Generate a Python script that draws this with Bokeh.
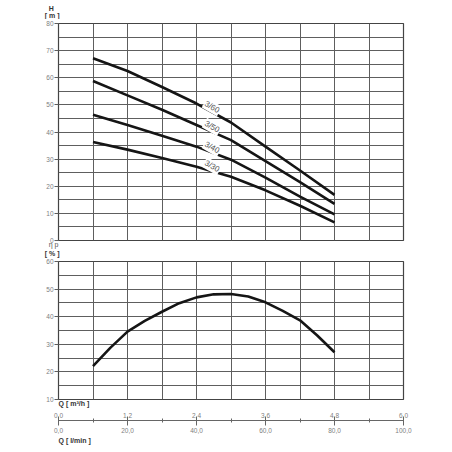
import numpy as np
from bokeh.plotting import figure
from bokeh.layouts import column
from bokeh.models import FixedTicker, LinearAxis, Label, Range1d, Title
from bokeh.embed import file_html
from bokeh.resources import INLINE

# ---- data ----
flow_lmin = [10, 20, 30, 40, 50, 60, 70, 80]
head_3_60 = [67.2, 62.5, 56.6, 50.5, 43.5, 34.6, 25.8, 16.8]
head_3_50 = [58.8, 53.5, 48.2, 42.6, 37.0, 29.3, 21.5, 13.5]
head_3_40 = [46.4, 42.6, 38.6, 34.6, 29.8, 23.2, 16.2, 9.6]
head_3_30 = [36.3, 33.5, 30.4, 27.2, 23.5, 18.5, 12.8, 6.7]
series_names = ["3/60", "3/50", "3/40", "3/30"]

eff_flow = [10, 15, 20, 25, 30, 35, 40, 45, 50, 55, 60, 65, 70, 75, 80]
eff_pct = [22.1, 28.7, 34.6, 38.5, 41.8, 44.9, 47.0, 48.1, 48.2, 47.3, 45.2, 42.1, 38.7, 33.2, 27.1]

x_major = [0, 20, 40, 60, 80, 100]
x_minor = [10, 30, 50, 70, 90]
m3h_labels = ["0,0", "1,2", "2,4", "3,6", "4,8", "6,0"]
lmin_labels = ["0,0", "20,0", "40,0", "60,0", "80,0", "100,0"]
h_ticks = list(range(0, 81, 10))
eff_ticks = list(range(10, 61, 10))

FONT = "Liberation Sans"
GRID = "#5e5e5e"
TICKC = "#808080"
CURVE = "#151515"
TSIZE = "6.5px"


def style(p, yt, ygrid_ticks):
    p.outline_line_color = "#444444"
    p.outline_line_width = 1.2
    p.outline_line_alpha = 1
    p.xgrid.ticker = FixedTicker(ticks=list(range(0, 101, 10)))
    p.ygrid.ticker = FixedTicker(ticks=ygrid_ticks)
    for g in (p.xgrid, p.ygrid):
        g.grid_line_color = GRID
        g.grid_line_width = 1
        g.grid_line_alpha = 1
    ax = p.yaxis[0]
    ax.ticker = FixedTicker(ticks=yt)
    ax.axis_line_color = None
    ax.major_tick_in = 0
    ax.major_tick_out = 4
    ax.minor_tick_out = 0
    ax.minor_tick_in = 0
    ax.major_tick_line_color = GRID
    ax.major_label_standoff = 1
    ax.major_label_text_font = FONT
    ax.major_label_text_font_size = TSIZE
    ax.major_label_text_color = TICKC
    p.background_fill_color = "white"
    p.border_fill_color = "white"


def ttl(p, text, side, valign, standoff, offset, bold=True, color="#333333"):
    p.add_layout(Title(text=text, align="left", offset=offset, standoff=standoff,
                       vertical_align=valign, text_font=FONT, text_font_size="7px",
                       text_line_height=1.0,
                       text_font_style="bold" if bold else "normal",
                       text_color=color), side)


# ---- header strip carrying the H [ m ] axis title ----
head = figure(frame_width=345, frame_height=1, x_range=Range1d(0, 100), y_range=Range1d(0, 1),
              x_axis_location=None, y_axis_location=None,
              min_border_left=58, min_border_right=34, min_border_top=18, min_border_bottom=0,
              output_backend="svg", toolbar_location=None)
head.outline_line_color = None
head.grid.visible = False
head.background_fill_color = "white"
head.border_fill_color = "white"
ttl(head, "\u00a0\u00a0H\n[ m ]", "above", "bottom", 0, -13.7)

# ---- top: head ----
top = figure(frame_width=345, frame_height=217,
             x_range=Range1d(0, 100), y_range=Range1d(0, 80),
             x_axis_location=None, output_backend="svg", toolbar_location=None,
             min_border_left=58, min_border_right=34, min_border_top=4, min_border_bottom=4)
style(top, h_ticks, list(range(0, 81, 5)))

for name, h in zip(series_names, [head_3_60, head_3_50, head_3_40, head_3_30]):
    top.line(flow_lmin, h, line_color=CURVE, line_width=2.6)
    qx = 44.5
    top.add_layout(Label(x=qx, y=float(np.interp(qx, flow_lmin, h)), text=name,
                         angle=-0.52, text_align="center", text_baseline="middle",
                         y_offset=5, text_font=FONT, text_font_size="8px",
                         text_color="#555555", background_fill_color="white",
                         padding=1))

ttl(top, "\u00a0\u00a0η p", "below", "top", 0, -13.7, bold=False, color="#555555")
ttl(top, "[ % ]", "below", "top", 0, -13.7)

# ---- bottom: efficiency ----
bot = figure(frame_width=345, frame_height=138,
             x_range=Range1d(0, 100), y_range=Range1d(10, 60),
             x_axis_location=None, output_backend="svg", toolbar_location=None,
             min_border_left=58, min_border_right=34, min_border_top=3, min_border_bottom=4)
style(bot, eff_ticks, list(range(10, 61, 5)))
bot.line(eff_flow, eff_pct, line_color=CURVE, line_width=2.6)

ttl(bot, "Q [ m³/h ]", "below", "top", 1, 0)

ax_m3h = LinearAxis(ticker=FixedTicker(ticks=x_major),
                    major_label_overrides={t: l for t, l in zip(x_major, m3h_labels)},
                    axis_line_color=None, major_tick_line_color=None, minor_tick_line_color=None,
                    major_tick_out=0, major_tick_in=0, minor_tick_out=0, minor_tick_in=0,
                    major_label_standoff=3, major_label_text_font=FONT,
                    major_label_text_font_size=TSIZE, major_label_text_color=TICKC)
ax_lmin = LinearAxis(ticker=FixedTicker(ticks=x_major, minor_ticks=x_minor),
                     major_label_overrides={t: l for t, l in zip(x_major, lmin_labels)},
                     axis_line_color="#666666", axis_line_width=1,
                     major_tick_line_color="#666666", minor_tick_line_color="#666666",
                     major_tick_in=4, major_tick_out=5, minor_tick_in=2, minor_tick_out=2,
                     major_label_standoff=2, major_label_text_font=FONT,
                     major_label_text_font_size=TSIZE, major_label_text_color=TICKC)
bot.add_layout(ax_m3h, "below")
bot.add_layout(ax_lmin, "below")
ttl(bot, "Q [ l/min ]", "below", "top", 2, 0)

layout = column(head, top, bot, spacing=0)
open("out.html", "w").write(file_html(layout, INLINE))
